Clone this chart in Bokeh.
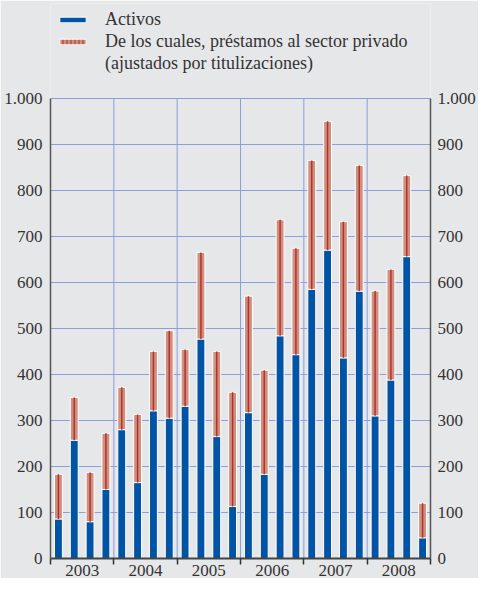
from bokeh.plotting import figure
from bokeh.models import (ColumnDataSource, FixedTicker, LinearAxis, Range1d,
                          Legend, LegendItem)
from bokeh.embed import file_html
from bokeh.resources import INLINE

years = ["2003", "2004", "2005", "2006", "2007", "2008"]
quarters = ["I", "II", "III", "IV"]
activos = [86, 257, 80, 150, 280, 165, 321, 305, 331, 477, 265, 113,
           317, 183, 484, 443, 585, 670, 436, 581, 310, 388, 656, 45]
total = [183, 350, 187, 272, 372, 313, 450, 495, 454, 665, 450, 361,
         570, 409, 736, 674, 865, 950, 732, 854, 581, 628, 832, 120]
y_ticks = [0, 100, 200, 300, 400, 500, 600, 700, 800, 900, 1000]
Y_MAX = 1000

labels = [f"{y} {q}" for y in years for q in quarters]
n = len(activos)
xs = [i + 0.5 for i in range(n)]
src = ColumnDataSource(dict(x=xs, label=labels[:n], activos=activos, total=total))

BG = "#e6e7e9"
BLUE = "#0054a3"
SALMON = "#d08e7f"
DARKRED = "#b0302a"
GRID = "#8c9edb"
TEXT = "#333333"
FONT = "Liberation Serif"

p = figure(width=478, height=578, output_backend="svg", toolbar_location=None,
           x_range=Range1d(0, n), y_range=Range1d(0, 1206),
           background_fill_color=BG, border_fill_color=BG,
           min_border_left=50, min_border_right=40, min_border_top=3,
           min_border_bottom=0)
p.outline_line_color = None

# vertical year-boundary grid lines (limited to the 0..1000 band)
bounds_x = [4 * i for i in range(len(years) + 1)]
inner = bounds_x[1:-1]
p.segment(x0=inner, y0=[0] * len(inner), x1=inner, y1=[Y_MAX] * len(inner),
          line_color=GRID, line_width=1)

p.vbar(x="x", bottom=0, top="activos", width=0.5, source=src,
       fill_color=BLUE, line_color="white", line_width=1)
p.vbar(x="x", bottom="activos", top="total", width=0.5, source=src,
       fill_color=SALMON, line_color="white", line_width=1)
p.vbar(x="x", bottom="activos", top="total", width=0.09, source=src,
       fill_color=DARKRED, line_color=None)

# legend-only renderers
empty = ColumnDataSource(dict(x=[0.0], t=[0.0]))
r_blue = p.vbar(x="x", top="t", bottom="t", width=0.0, source=empty,
                fill_color=BLUE, line_color="white", line_width=1)
r_red = p.vbar(x="x", top="t", bottom="t", width=0.0, source=empty,
               fill_color=SALMON, line_color="white", line_width=1,
               hatch_pattern="vertical_line", hatch_color=DARKRED,
               hatch_scale=4, hatch_weight=1)
r_none = p.vbar(x="x", top="t", bottom="t", width=0.0, source=empty,
                fill_alpha=0, line_alpha=0)

legend = Legend(items=[
    LegendItem(label="Activos", renderers=[r_blue]),
    LegendItem(label="De los cuales, préstamos al sector privado", renderers=[r_red]),
    LegendItem(label="(ajustados por titulizaciones)", renderers=[r_none]),
], location="top_left", orientation="vertical")
legend.background_fill_alpha = 0
legend.border_line_color = None
legend.glyph_width = 33
legend.glyph_height = 7
legend.label_height = 21
legend.spacing = 1
legend.padding = 0
legend.margin = 6
legend.label_standoff = 16
legend.label_text_font = FONT
legend.label_text_font_size = "18px"
legend.label_text_color = TEXT
p.add_layout(legend, "center")

# y axes
def style_y(ax):
    ax.ticker = FixedTicker(ticks=y_ticks)
    ax.major_label_overrides = {1000: "1.000"}
    ax.bounds = (0, Y_MAX)
    ax.axis_line_color = "#555555"
    ax.axis_line_width = 1.5
    ax.major_tick_line_color = None
    ax.minor_tick_line_color = None
    ax.major_tick_in = 0
    ax.major_tick_out = 0
    ax.minor_tick_in = 0
    ax.minor_tick_out = 0
    ax.major_label_text_font = FONT
    ax.major_label_text_font_size = "17px"
    ax.major_label_text_color = TEXT
    ax.major_label_standoff = 8

style_y(p.yaxis[0])
right = LinearAxis()
style_y(right)
right.major_label_standoff = 7
p.add_layout(right, "right")

# x axis
xa = p.xaxis[0]
centers = [4 * i + 2 for i in range(len(years))]
xa.ticker = FixedTicker(ticks=centers, minor_ticks=bounds_x)
xa.major_label_overrides = {c: y for c, y in zip(centers, years)}
xa.axis_line_color = "#444444"
xa.axis_line_width = 1.8
xa.major_tick_line_color = None
xa.major_tick_in = 0
xa.major_tick_out = 0
xa.minor_tick_line_color = "#333333"
xa.minor_tick_line_width = 1.5
xa.minor_tick_in = 0
xa.minor_tick_out = 6
xa.major_label_text_font = FONT
xa.major_label_text_font_size = "17px"
xa.major_label_text_color = TEXT
xa.major_label_standoff = 0

p.xgrid.visible = False
p.ygrid.ticker = FixedTicker(ticks=y_ticks)
p.ygrid.grid_line_color = GRID
p.ygrid.grid_line_width = 1

open("out.html", "w").write(file_html(p, INLINE))
